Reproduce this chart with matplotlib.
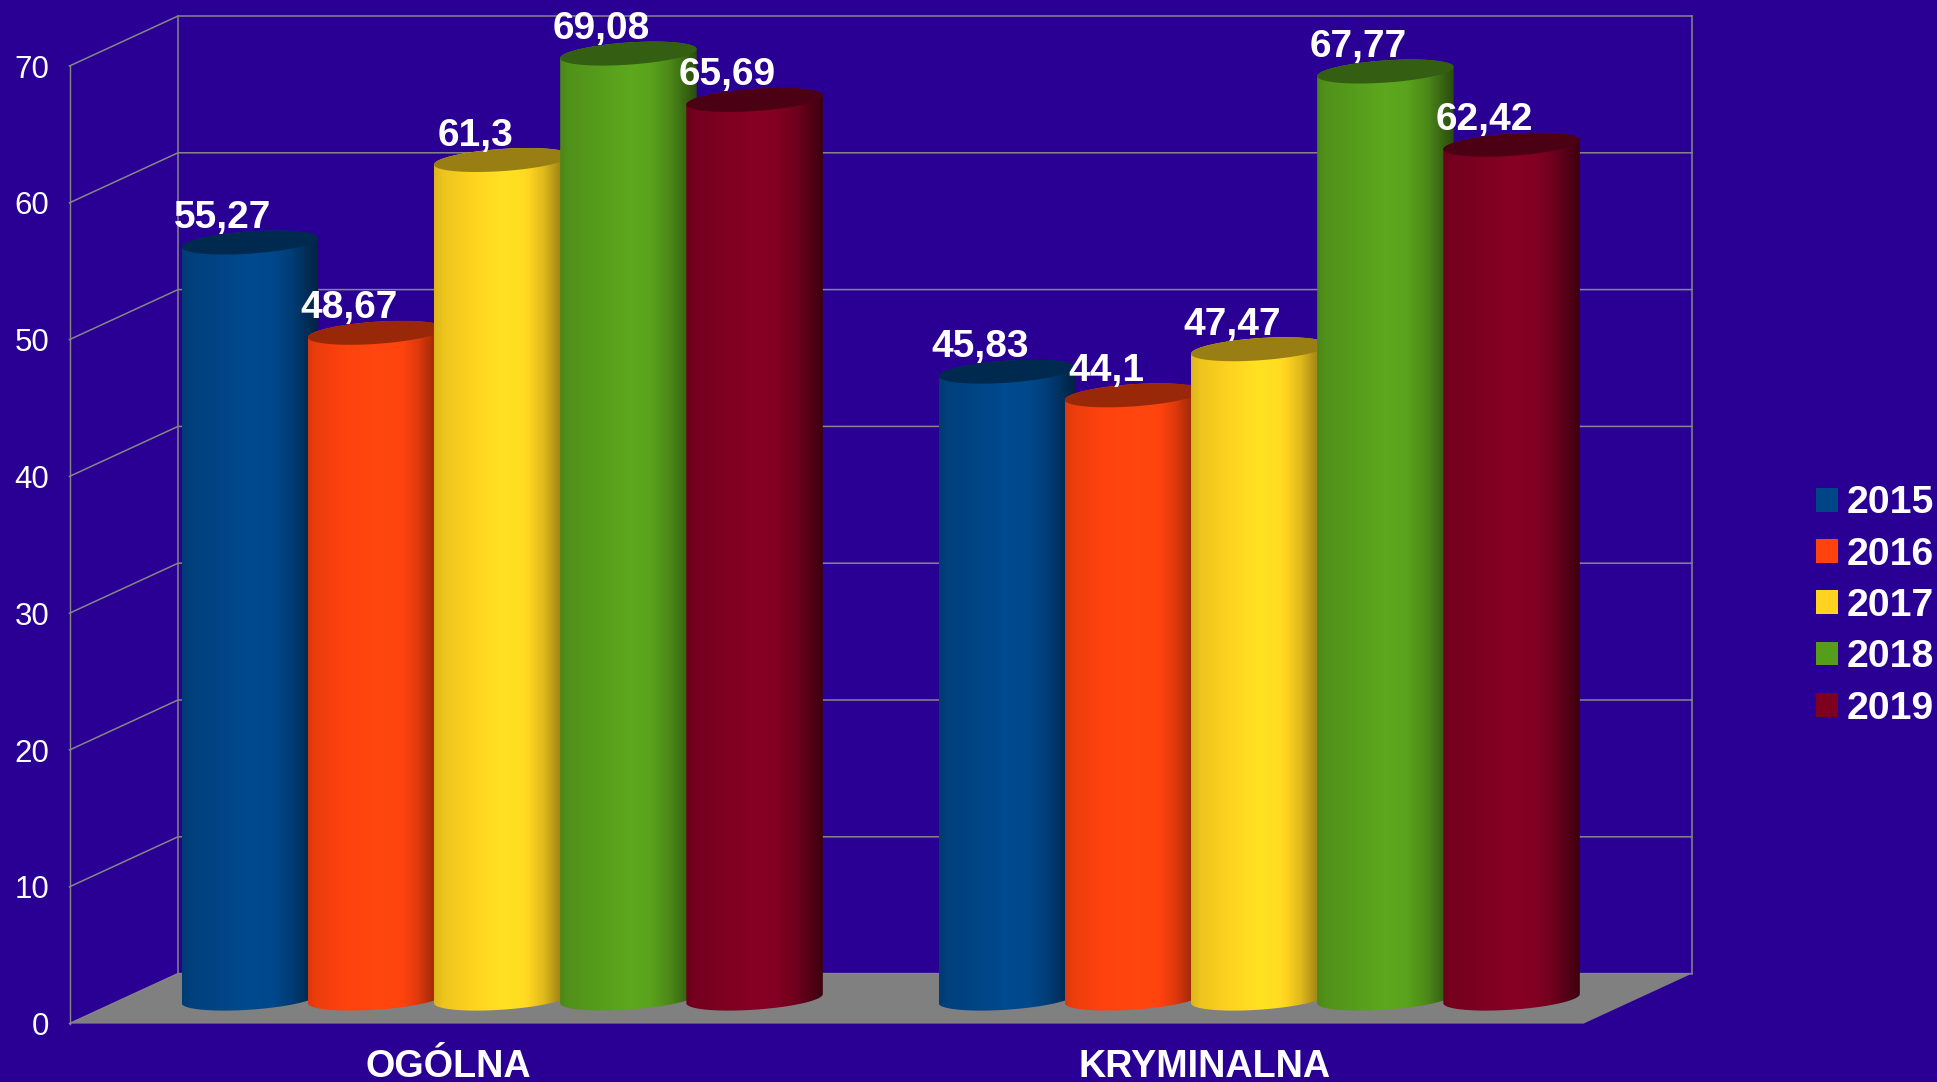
import numpy as np
import matplotlib
matplotlib.use("Agg")
import matplotlib.pyplot as plt
from matplotlib.patches import Polygon, Patch
from matplotlib.colors import to_rgb

categories = ["OGÓLNA", "KRYMINALNA"]
years = ["2015", "2016", "2017", "2018", "2019"]
v2015 = [55.27, 45.83]
v2016 = [48.67, 44.1]
v2017 = [61.3, 47.47]
v2018 = [69.08, 67.77]
v2019 = [65.69, 62.42]
series = [v2015, v2016, v2017, v2018, v2019]
colors = ["#004586", "#ff420e", "#ffd320", "#579d1c", "#7e0021"]
yticks = [0, 10, 20, 30, 40, 50, 60, 70]

BG = "#2a0094"
GRID = "#868686"
FLOOR = "#808080"
W, H = 1937, 1082
X0, X1 = 69.5, 1583.5
Y0, Y70 = 1023.6, 66.0

plt.rcParams["font.family"] = ["Liberation Sans", "DejaVu Sans"]
fig = plt.figure(figsize=(W / 100, H / 100), dpi=100, facecolor=BG)
ax = fig.add_axes([X0 / W, 1 - Y0 / H, (X1 - X0) / W, (Y0 - Y70) / H])
ax.set_facecolor("none")
ax.set_xlim(0, len(categories))
ax.set_ylim(0, 70)

# depth of the 3D box, in data units
ddx = 108.5 / ((X1 - X0) / len(categories))
ddy = 50.0 / ((Y0 - Y70) / 70)
depth = 0.48
bar_w = 1 / 6

# frame
for s in ("top", "right", "bottom"):
    ax.spines[s].set_visible(False)
ax.spines["left"].set_color(GRID)
ax.spines["left"].set_linewidth(1.0)
ax.set_yticks(yticks)
ax.set_yticklabels([str(t) for t in yticks], fontsize=22.5, color="white")
ax.tick_params(axis="y", length=0, pad=14.6)
ax.set_xticks(np.arange(len(categories)) + 0.5)
ax.set_xticklabels(categories, fontsize=27.2, fontweight="bold", color="white")
ax.tick_params(axis="x", length=0, pad=18.6)

# floor
n = len(categories)
ax.add_patch(Polygon([(0, 0), (n, 0), (n + ddx, ddy), (ddx, ddy)], closed=True,
                     facecolor=FLOOR, edgecolor="none", zorder=1, clip_on=False))
# walls and grid
for t in yticks:
    ax.plot([0, ddx, n + ddx], [t, t + ddy, t + ddy], color=GRID, lw=1.1,
            zorder=1.5, clip_on=False, solid_joinstyle="miter")
ax.plot([ddx, ddx], [ddy, 70 + ddy], color=GRID, lw=1.1, zorder=1.5, clip_on=False)
ax.plot([n + ddx, n + ddx], [ddy, 70 + ddy], color=GRID, lw=1.1, zorder=1.5, clip_on=False)

# shading across a cylinder
shade_t = [0.0, 0.06, 0.22, 0.50, 0.66, 0.80, 0.92, 1.0]
shade_m = [0.86, 0.93, 0.98, 1.07, 1.04, 0.88, 0.64, 0.48]
top_m = 0.6

a = bar_w / 2
b = depth * ddx / 2
c = depth * ddy / 2
t0 = np.arctan2(b, a)
half_w = np.hypot(a, b)


def ellipse(cx, cy, t):
    return np.column_stack([cx + a * np.cos(t) + b * np.sin(t), cy + c * np.sin(t)])


z = 2.0
labels = []
for gi in range(n):
    for si, vals in enumerate(series):
        val = vals[gi]
        base = np.array(to_rgb(colors[si]))
        left = gi + bar_w / 2 + si * bar_w
        cx = left + bar_w / 2 + ddx / 2
        cy0 = ddy / 2
        cy1 = val + ddy / 2
        lower = ellipse(cx, cy0, np.linspace(t0 + np.pi, t0 + 2 * np.pi, 80))
        upper = ellipse(cx, cy1, np.linspace(t0, t0 + np.pi, 80))
        body = Polygon(np.vstack([lower, upper]), closed=True, facecolor="none",
                       edgecolor="none", transform=ax.transData)
        ax.add_patch(body)
        ramp_x = np.linspace(0, 1, 256)
        m = np.interp(ramp_x, shade_t, shade_m)
        img = np.clip(m[None, :, None] * base[None, None, :], 0, 1)
        im = ax.imshow(img, extent=[cx - half_w, cx + half_w, cy0 - c, cy1 + c],
                       aspect="auto", origin="lower", interpolation="bilinear",
                       zorder=z)
        im.set_clip_box(fig.bbox)
        im.set_clip_path(body)
        ax.add_patch(Polygon(ellipse(cx, cy1, np.linspace(0, 2 * np.pi, 160)), closed=True,
                             facecolor=base * top_m, edgecolor="none", zorder=z + 0.01,
                             clip_on=False))
        z += 0.1
        labels.append((cx, cy1, str(val).replace(".", ",")))

for cx, cy, txt in labels:
    ax.annotate(txt, (cx, cy), xytext=(-27, 14.5), textcoords="offset pixels",
                ha="center", va="baseline", fontsize=28, fontweight="bold",
                color="white", zorder=50, annotation_clip=False)

ax.set_xlim(0, n)
ax.set_ylim(0, 70)

handles = [Patch(facecolor=col, edgecolor="none", label=y) for col, y in zip(colors, years)]
leg = fig.legend(handles=handles, loc="center left",
                 bbox_to_anchor=(1816.4 / W, 1 - 606 / H),
                 frameon=False, labelcolor="white",
                 prop={"weight": "bold", "size": 28.2},
                 handlelength=0.56, handleheight=0.56, handletextpad=0.22,
                 labelspacing=0.39, borderpad=0, borderaxespad=0)

fig.savefig("out.png", dpi=100, facecolor=BG)
